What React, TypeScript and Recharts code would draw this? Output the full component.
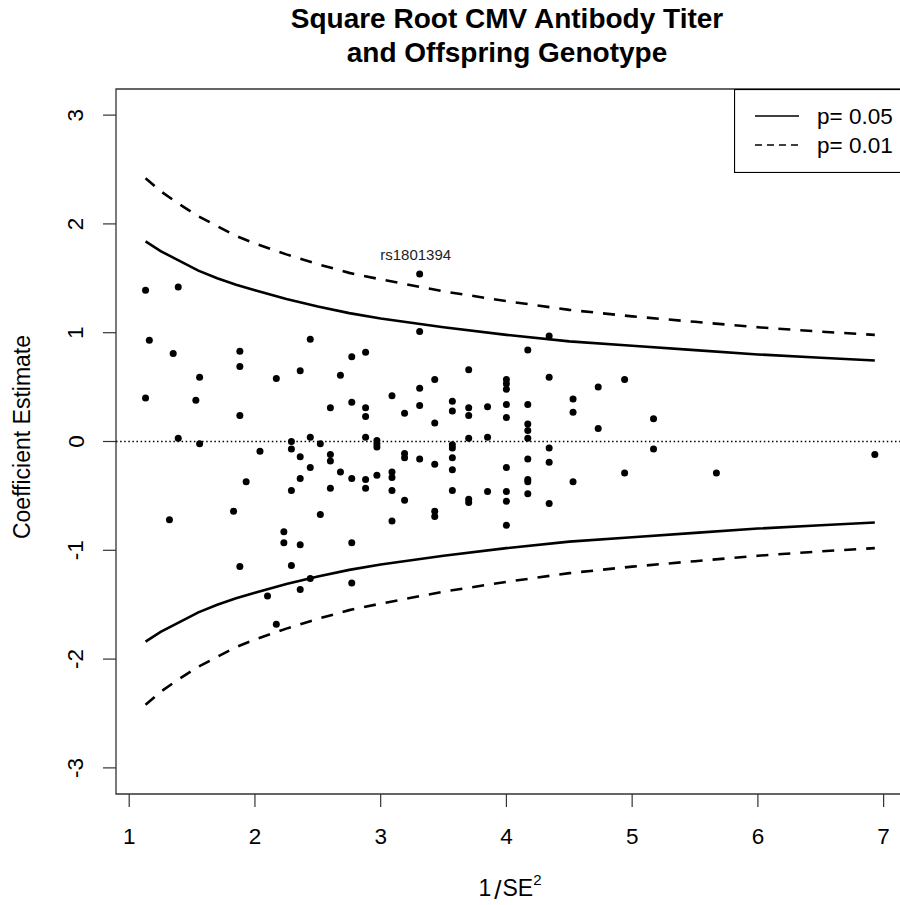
import React from 'react';
import {
  ComposedChart,
  Scatter,
  Line,
  XAxis,
  YAxis,
  ReferenceLine,
  ReferenceArea,
  Legend,
} from 'recharts';

const FONT = '"Liberation Sans", Arial, Helvetica, sans-serif';

// ---- Data ----
const titleLines = ['Square Root CMV Antibody Titer', 'and Offspring Genotype'];
const yAxisTitle = 'Coefficient Estimate';
const xTicks = [1, 2, 3, 4, 5, 6, 7];
const yTicks = [-3, -2, -1, 0, 1, 2, 3];
const legendLabels = ['p= 0.05', 'p= 0.01'];

// 1/SE^2 of each SNP
const pointX = [
  1.13, 1.39, 1.16, 1.35, 1.88, 1.88, 1.56, 2.17, 1.13, 1.53, 1.88, 1.39, 1.56, 2.04, 1.93, 1.83, 1.32, 1.88, 2.10, 2.17,
  3.31, 3.31, 2.44, 2.77, 2.88, 2.36, 2.68, 3.09, 3.31, 3.31, 2.60, 2.77, 2.88, 2.88, 3.19, 2.29, 2.29, 2.44, 2.52, 2.88,
  2.97, 2.97, 2.97, 2.36, 2.60, 2.60, 3.19, 3.19, 3.31, 2.44, 2.36, 2.68, 2.77, 2.88, 2.88, 2.97, 3.09, 3.09, 2.29, 2.60,
  3.09, 3.19, 2.52, 3.09, 2.23, 2.23, 2.36, 2.77, 2.29, 2.44, 2.36, 2.77,
  4.34, 4.17, 3.70, 3.43, 4.34, 4.00, 4.00, 4.00, 3.57, 3.57, 3.70, 3.70, 3.85, 4.00, 4.00, 4.17, 4.53, 4.53, 3.43, 3.70,
  3.85, 4.17, 4.17, 4.17, 3.57, 3.57, 3.57, 3.57, 4.34, 4.34, 3.43, 4.00, 4.17, 4.17, 4.17, 4.53, 3.57, 3.70, 3.70, 3.85,
  4.00, 4.00, 4.17, 4.34, 3.43, 3.43, 4.00,
  4.73, 4.94, 4.73, 5.17, 5.17, 4.94, 5.67, 6.93,
];
// coefficient estimate of each SNP
const pointY = [
  1.39, 1.42, 0.93, 0.81, 0.83, 0.69, 0.59, 0.58, 0.40, 0.38, 0.24, 0.03, -0.02, -0.09, -0.37, -0.64, -0.72, -1.15, -1.42, -1.68,
  1.54, 1.01, 0.94, 0.78, 0.82, 0.65, 0.61, 0.42, 0.49, 0.33, 0.31, 0.36, 0.31, 0.23, 0.26, 0.0, -0.07, 0.04, -0.02, 0.04,
  0.01, -0.02, -0.05, -0.14, -0.12, -0.18, -0.11, -0.15, -0.16, -0.24, -0.34, -0.28, -0.34, -0.35, -0.43, -0.31, -0.28, -0.33, -0.45, -0.43,
  -0.45, -0.54, -0.67, -0.73, -0.83, -0.93, -0.95, -0.93, -1.14, -1.26, -1.36, -1.30,
  0.97, 0.84, 0.66, 0.57, 0.59, 0.57, 0.53, 0.48, 0.37, 0.28, 0.31, 0.24, 0.32, 0.34, 0.22, 0.34, 0.39, 0.27, 0.17, 0.03,
  0.04, 0.16, 0.10, 0.03, -0.03, -0.06, -0.15, -0.26, -0.06, -0.19, -0.21, -0.24, -0.16, -0.35, -0.37, -0.37, -0.45, -0.53, -0.56, -0.46,
  -0.46, -0.55, -0.48, -0.57, -0.64, -0.69, -0.77,
  0.50, 0.57, 0.12, 0.21, -0.07, -0.29, -0.29, -0.12,
];

// labelled SNP
const labelName = 'rs1801394';
const labelX = 3.31;
const labelY = 1.54;

// significance funnel curves
const curveX = [1.13, 1.25, 1.4, 1.55, 1.7, 1.85, 2.0, 2.25, 2.5, 2.75, 3.0, 3.5, 4.0, 4.5, 5.0, 5.5, 6.0, 6.5, 6.93];
const upper05 = [1.84, 1.75, 1.66, 1.57, 1.5, 1.44, 1.39, 1.31, 1.24, 1.18, 1.13, 1.05, 0.98, 0.92, 0.88, 0.84, 0.8, 0.77, 0.745];
const lower05 = [-1.84, -1.75, -1.66, -1.57, -1.5, -1.44, -1.39, -1.31, -1.24, -1.18, -1.13, -1.05, -0.98, -0.92, -0.88, -0.84, -0.8, -0.77, -0.745];
const upper01 = [2.42, 2.3, 2.18, 2.07, 1.98, 1.89, 1.82, 1.72, 1.63, 1.55, 1.49, 1.38, 1.29, 1.21, 1.15, 1.1, 1.05, 1.01, 0.98];
const lower01 = [-2.42, -2.3, -2.18, -2.07, -1.98, -1.89, -1.82, -1.72, -1.63, -1.55, -1.49, -1.38, -1.29, -1.21, -1.15, -1.1, -1.05, -1.01, -0.98];

const xDomain: [number, number] = [0.895, 7.162];
const yDomain: [number, number] = [-3.24, 3.24];

const toSeries = (ys: number[]) => curveX.map((x, i) => ({ x, y: ys[i] }));

const XTick = (props: any) => {
  const { x, y, payload } = props;
  return (
    <text x={x} y={y + 27} textAnchor="middle" dominantBaseline="central" fontFamily={FONT} fontSize={22.5} fill="#000">
      {payload.value}
    </text>
  );
};

const YTick = (props: any) => {
  const { x, y, payload } = props;
  const cx = x - 25;
  return (
    <text
      x={cx}
      y={y}
      transform={`rotate(-90, ${cx}, ${y})`}
      textAnchor="middle"
      dominantBaseline="central"
      fontFamily={FONT}
      fontSize={22.5}
      fill="#000"
    >
      {payload.value}
    </text>
  );
};

const DotShape = (props: any) => <circle cx={props.cx} cy={props.cy} r={3.5} fill="#000" />;

const LabelShape = (props: any) => (
  <text x={props.cx - 4} y={props.cy - 19} textAnchor="middle" dominantBaseline="central" fontFamily={FONT} fontSize={15} fill="#222">
    {props.payload.name}
  </text>
);

const LegendBox = () => (
  <svg width={170} height={84} style={{ display: 'block', background: '#fff' }}>
    <rect x={0.5} y={0.5} width={175} height={83} fill="#fff" stroke="#000" strokeWidth={1.2} />
    {legendLabels.map((lab, i) => {
      const cy = 27 + i * 29;
      return (
        <g key={lab}>
          <line x1={21} x2={65} y1={cy} y2={cy} stroke="#000" strokeWidth={1.3} strokeDasharray={i === 1 ? '7 5' : undefined} />
          <text x={83} y={cy} dominantBaseline="central" fontFamily={FONT} fontSize={22.5} fill="#000">
            {lab}
          </text>
        </g>
      );
    })}
  </svg>
);

export default function App() {
  const points = pointX.map((x, i) => ({ x, y: pointY[i] }));
  const labelData = [{ x: labelX, y: labelY, name: labelName }];

  return (
    <div style={{ position: 'absolute', left: 0, top: 0, width: 900, height: 905, overflow: 'hidden', background: '#fff' }}>
      <ComposedChart width={910} height={905} margin={{ top: 89, right: 6, bottom: 51, left: 56 }}>
        <XAxis
          type="number"
          dataKey="x"
          domain={xDomain}
          ticks={xTicks}
          interval={0}
          allowDataOverflow
          axisLine={false}
          tickSize={13}
          tickLine={{ stroke: '#333', strokeWidth: 1.2 }}
          tick={<XTick />}
          height={60}
        />
        <YAxis
          type="number"
          dataKey="y"
          domain={yDomain}
          ticks={yTicks}
          interval={0}
          allowDataOverflow
          axisLine={false}
          tickSize={13}
          tickLine={{ stroke: '#333', strokeWidth: 1.2 }}
          tick={<YTick />}
          width={60}
        />
        <ReferenceArea
          x1={xDomain[0]}
          x2={xDomain[1]}
          y1={yDomain[0]}
          y2={yDomain[1]}
          fill="none"
          stroke="#333"
          strokeWidth={1.3}
          ifOverflow="visible"
        />
        <ReferenceLine y={0} stroke="#000" strokeWidth={1.3} strokeDasharray="1.5 2.6" />
        <Line data={toSeries(upper05)} dataKey="y" name={legendLabels[0]} stroke="#000" strokeWidth={2.6} dot={false} activeDot={false} isAnimationActive={false} type="linear" />
        <Line data={toSeries(lower05)} dataKey="y" name="lower05" legendType="none" stroke="#000" strokeWidth={2.6} dot={false} activeDot={false} isAnimationActive={false} type="linear" />
        <Line data={toSeries(upper01)} dataKey="y" name={legendLabels[1]} stroke="#000" strokeWidth={2.6} strokeDasharray="12 10" dot={false} activeDot={false} isAnimationActive={false} type="linear" />
        <Line data={toSeries(lower01)} dataKey="y" name="lower01" legendType="none" stroke="#000" strokeWidth={2.6} strokeDasharray="12 10" dot={false} activeDot={false} isAnimationActive={false} type="linear" />
        <Scatter data={points} shape={DotShape} legendType="none" isAnimationActive={false} />
        <Scatter data={labelData} shape={LabelShape} legendType="none" isAnimationActive={false} />
        <Legend
          layout="horizontal"
          verticalAlign="middle"
          align="center"
          content={<LegendBox />}
          wrapperStyle={{ left: 734, top: 89, width: 170, height: 84, margin: 0, padding: 0 }}
        />
      </ComposedChart>
      <svg
        width={900}
        height={905}
        style={{ position: 'absolute', left: 0, top: 0, pointerEvents: 'none' }}
      >
        <text x={507} y={18} textAnchor="middle" dominantBaseline="central" fontFamily={FONT} fontWeight="bold" fontSize={28} fill="#000">
          {titleLines[0]}
        </text>
        <text x={507} y={52} textAnchor="middle" dominantBaseline="central" fontFamily={FONT} fontWeight="bold" fontSize={28} fill="#000">
          {titleLines[1]}
        </text>
        <text
          x={22}
          y={437}
          transform="rotate(-90, 22, 437)"
          textAnchor="middle"
          dominantBaseline="central"
          fontFamily={FONT}
          fontSize={23}
          fill="#000"
        >
          {yAxisTitle}
        </text>
        <text x={510} y={888} textAnchor="middle" dominantBaseline="central" fontFamily={FONT} fontSize={23} fill="#000">
          <tspan>1</tspan>
          <tspan dx={3} fontSize={26} dy={2}>/</tspan>
          <tspan dx={1} dy={-2}>SE</tspan>
          <tspan dy={-9} fontSize={15}>2</tspan>
        </text>
      </svg>
    </div>
  );
}
